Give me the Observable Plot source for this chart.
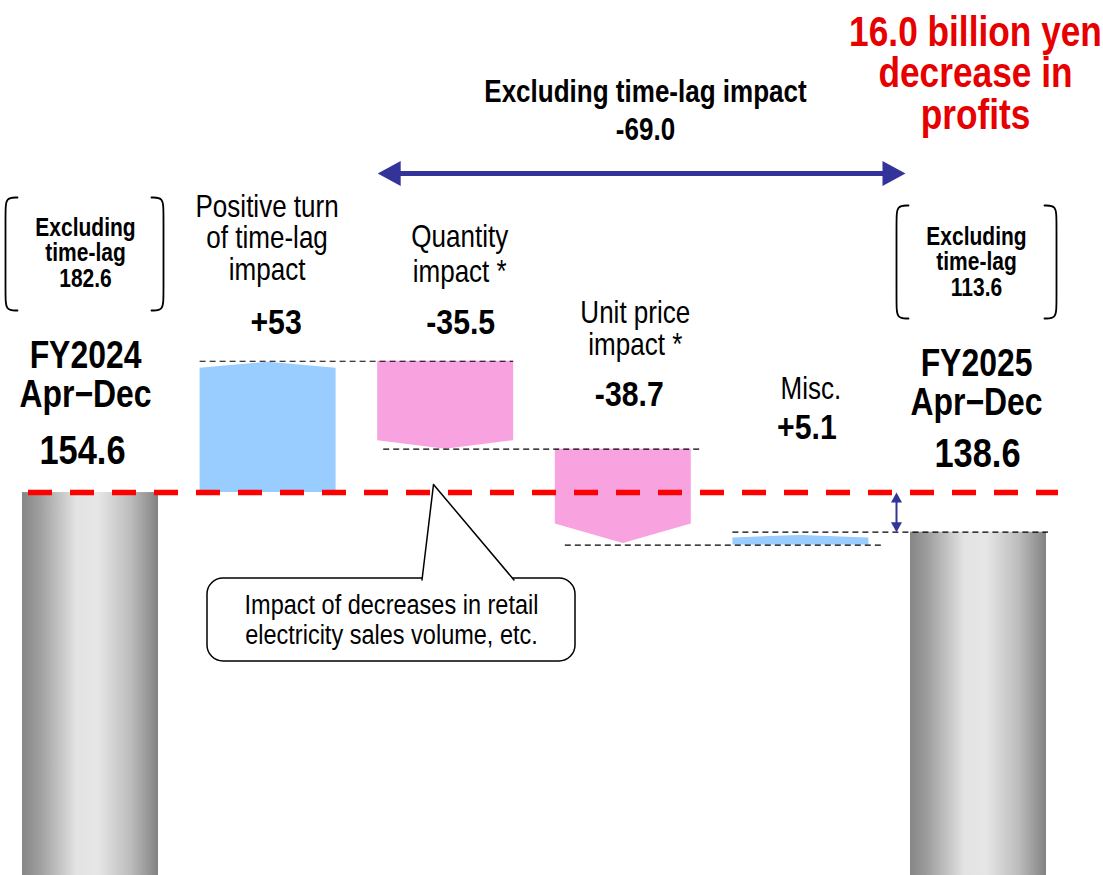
<!DOCTYPE html>
<html>
<head>
<meta charset="utf-8">
<script src="https://cdn.jsdelivr.net/npm/d3@7"></script>
<script src="https://cdn.jsdelivr.net/npm/@observablehq/plot@0.6"></script>
<style>
  html, body { margin: 0; padding: 0; background: #fff; }
</style>
</head>
<body>
<div id="chart"></div>
<script>
// ---------------- data ----------------
const categories = ["FY2024\nApr−Dec", "Positive turn\nof time-lag\nimpact", "Quantity\nimpact *", "Unit price\nimpact *", "Misc.", "FY2025\nApr−Dec"];
const startValue = 154.6;
const endValue = 138.6;
const changeValues = [53, -35.5, -38.7, 5.1];
const changeLabels = ["+53", "-35.5", "-38.7", "+5.1"];
const totalLabels = ["154.6", "138.6"];
const excludingLagLabels = ["Excluding\ntime-lag\n182.6", "Excluding\ntime-lag\n113.6"];
const excludingLagTitle = "Excluding time-lag impact\n-69.0";
const headline = "16.0 billion yen\ndecrease in\nprofits";
const calloutText = "Impact of decreases in retail\nelectricity sales volume, etc.";

// ---------------- layout (pixels) ----------------
const W = 1103, H = 875;
const X0 = 90, STEP = 177.6;   // px of the first category centre, px per category
const K = 2.477;               // px per unit of value
const ix = px => (px - X0) / STEP;   // page px -> x index
const vy = px => (H - px) / K;       // page px -> value
const dI = px => px / STEP;
const dV = px => px / K;
const HALF = dI(68);
const FONT = "'Liberation Sans', Arial, sans-serif";
// condensed look of the original lettering (horizontal squeeze per text group)
const squeeze = {"fy-names": 0.745, "fy-values": 0.85, "callout-text": 0.86, "headline": 0.82, "lag-notes": 0.87};
const defaultSqueeze = 0.84;

// ---------------- derived waterfall ----------------
let run = startValue;
const steps = changeValues.map((c, k) => {
  const from = run; run = run + c;
  return {k, i: k + 1, c, from, to: run, label: changeLabels[k], name: categories[k + 1]};
});
const totals = [
  {i: 0, value: startValue, label: totalLabels[0], name: categories[0], excl: excludingLagLabels[0]},
  {i: 5, value: endValue, label: totalLabels[1], name: categories[5], excl: excludingLagLabels[1]}
];

// arrow-like tip of each change bar (px)
const tipEdgePx = [7, 8.5, 21, 5.5];
const tipMidPx = [1, 0, 1.5, 3];
const barPts = steps.flatMap(s => {
  const up = s.c > 0;
  return [[-1, tipEdgePx[s.k]], [0, tipMidPx[s.k]], [1, tipEdgePx[s.k]]].map(([f, t]) => up
    ? {k: s.k, up, x: s.i + f * HALF, y1: s.from, y2: s.to - dV(t)}
    : {k: s.k, up, x: s.i + f * HALF, y1: s.to + dV(t), y2: s.from});
});

// dashed connectors
const connectorPx = [[-68, 68], [-62, 77], [-58, 82], [-68, 70]];
const connectorLevels = [steps[0].to, steps[1].to, steps[2].to, endValue];
const connectors = connectorLevels.map((y, k) => ({
  y, x1: k + 1 + dI(connectorPx[k][0]), x2: k + 2 + dI(connectorPx[k][1])
}));

// red reference line at the starting level
const refLine = [{y: startValue, x1: 0 - dI(62), x2: 5 + dI(80)}];

// header double arrow (spans the ex-lag comparison)
const arrowY = vy(173);
const aL = 2 - HALF, aR = 5 - HALF - dI(5);
const bigShaft = [{x1: aL + dI(18), x2: aR - dI(18), y: arrowY}];
const heads = [
  {g: "L", x: aL, y: arrowY}, {g: "L", x: aL + dI(23), y: arrowY + dV(12.5)}, {g: "L", x: aL + dI(23), y: arrowY - dV(12.5)},
  {g: "R", x: aR, y: arrowY}, {g: "R", x: aR - dI(23), y: arrowY + dV(12.5)}, {g: "R", x: aR - dI(23), y: arrowY - dV(12.5)}
];
// small arrow showing the 16.0 decrease
const sx = 5 - dI(82);
const smallShaft = [{x: sx, y1: startValue - dV(6), y2: endValue + dV(6)}];
const smallHeads = [
  {g: "T", x: sx, y: startValue}, {g: "T", x: sx - dI(5.5), y: startValue - dV(10)}, {g: "T", x: sx + dI(5.5), y: startValue - dV(10)},
  {g: "B", x: sx, y: endValue}, {g: "B", x: sx - dI(5.5), y: endValue + dV(10)}, {g: "B", x: sx + dI(5.5), y: endValue + dV(10)}
];

// brackets around the "Excluding time-lag" notes
function bracket(id, xEdge, dir, topPx, botPx) {
  const rx = dI(12) * dir, t = vy(topPx), b = vy(botPx), ry = dV(15);
  return [[xEdge + rx, t], [xEdge, t], [xEdge, t - ry], [xEdge, b + ry], [xEdge, b], [xEdge + rx, b]]
    .map(([x, y]) => ({id, x, y}));
}
const brackets = [
  ...bracket("l0", 0 - dI(85), 1, 197, 310), ...bracket("r0", 0 + dI(73), -1, 197, 310),
  ...bracket("l5", 5 - dI(82), 1, 205, 318), ...bracket("r5", 5 + dI(78), -1, 205, 318)
];

// callout
const calloutBox = [{x1: ix(207), x2: ix(575), y1: vy(661), y2: vy(578)}];
const calloutPointer = [{x: ix(421.5), y: vy(579.5)}, {x: ix(433), y: vy(484)}, {x: ix(513.5), y: vy(579.5)}];

// ---------------- text layout ----------------
const catLabelLayout = [[-1, 279, 31.5], [14, 281, 35], [12, 354, 32], [10, 398, 32]];   // dx px, last baseline px, line height px
const valLabelLayout = [[8, 333], [15, 333], [6, 405], [6, 438]];
const totalLayout = [[-5, 406, 463, 286, -8], [-2, 414, 466, 295, -1]];      // dx, name, value, excl baselines, value dx

const txt = (data, o) => Plot.text(data, {lineAnchor: "bottom", textAnchor: "middle", fill: "#000", ...o});

const svg = Plot.plot({
  width: W, height: H,
  marginTop: 0, marginBottom: 0, marginLeft: 0, marginRight: 0,
  x: {type: "linear", domain: [ix(0), ix(W)], axis: null},
  y: {type: "linear", domain: [0, vy(0)], axis: null},
  style: {fontFamily: FONT, background: "#fff", overflow: "visible"},
  marks: [
    // totals (grey cylinders)
    Plot.rect(totals, {x1: d => d.i - HALF, x2: d => d.i + HALF, y1: d => 0, y2: "value", fill: "url(#greyCylinder)"}),
    // change bars
    Plot.areaY(barPts.filter(d => d.up), {x: "x", y1: "y1", y2: "y2", z: "k", fill: "#99ccff", curve: "linear"}),
    Plot.areaY(barPts.filter(d => !d.up), {x: "x", y1: "y1", y2: "y2", z: "k", fill: "#f9a2e0", curve: "linear"}),
    // connectors
    Plot.ruleY(connectors, {y: "y", x1: "x1", x2: "x2", stroke: "#000", strokeWidth: 1.2, strokeDasharray: "6,4"}),
    // reference line
    Plot.ruleY(refLine, {y: "y", x1: "x1", x2: "x2", stroke: "#ff0000", strokeWidth: 5.5, strokeDasharray: "24,18"}),
    // header arrow
    Plot.ruleY(bigShaft, {y: "y", x1: "x1", x2: "x2", stroke: "#333399", strokeWidth: 5}),
    Plot.line(heads, {x: "x", y: "y", z: "g", fill: "#333399", stroke: null, curve: "linear"}),
    // small arrow
    Plot.ruleX(smallShaft, {x: "x", y1: "y1", y2: "y2", stroke: "#333399", strokeWidth: 2}),
    Plot.line(smallHeads, {x: "x", y: "y", z: "g", fill: "#333399", stroke: null, curve: "linear"}),
    // brackets
    Plot.line(brackets, {x: "x", y: "y", z: "id", stroke: "#000", strokeWidth: 1.8, curve: "basis"}),
    // callout
    Plot.rect(calloutBox, {x1: "x1", x2: "x2", y1: "y1", y2: "y2", rx: 16, fill: "#fff", stroke: "#000", strokeWidth: 1.5}),
    Plot.line(calloutPointer, {x: "x", y: "y", fill: "#fff", stroke: "#000", strokeWidth: 1.5, curve: "linear"}),
    txt([calloutText], {ariaLabel: "callout-text", x: () => ix(391), y: () => vy(643), text: d => d, fontSize: 28, lineHeight: 30 / 28}),
    // texts
    txt([headline], {ariaLabel: "headline", x: () => 5 - dI(3), y: () => vy(128), text: d => d, fontSize: 42, fontWeight: "bold", fill: "#e60000", lineHeight: 41.5 / 42}),
    txt([excludingLagTitle], {ariaLabel: "lag-title", x: () => ix(645), y: () => vy(139), text: d => d, fontSize: 31, fontWeight: "bold", lineHeight: 38 / 31}),
    txt(totals, {ariaLabel: "lag-notes", x: (d, j) => d.i + dI(totalLayout[j][0]), y: (d, j) => vy(totalLayout[j][3]), text: "excl", fontSize: 25, fontWeight: "bold", lineHeight: 25.5 / 25}),
    txt(totals, {ariaLabel: "fy-names", x: (d, j) => d.i + dI(totalLayout[j][0]), y: (d, j) => vy(totalLayout[j][1]), text: "name", fontSize: 38, fontWeight: "bold", lineHeight: 39 / 38}),
    txt(totals, {ariaLabel: "fy-values", x: (d, j) => d.i + dI(totalLayout[j][4]), y: (d, j) => vy(totalLayout[j][2]), text: "label", fontSize: 41, fontWeight: "bold"}),
    ...steps.map(s => txt([s], {ariaLabel: "step-names", x: d => d.i + dI(catLabelLayout[d.k][0]), y: d => vy(catLabelLayout[d.k][1]), text: "name", fontSize: 31, lineHeight: catLabelLayout[s.k][2] / 31})),
    txt(steps, {ariaLabel: "step-values", x: d => d.i + dI(valLabelLayout[d.k][0]), y: d => vy(valLabelLayout[d.k][1]), text: "label", fontSize: 36, fontWeight: "bold"})
  ]
});

// horizontal shading of the grey cylinders
const defs = d3.select(svg).insert("defs", ":first-child");
const grad = defs.append("linearGradient").attr("id", "greyCylinder").attr("x1", 0).attr("x2", 1).attr("y1", 0).attr("y2", 0);
[[0, "#868686"], [0.12, "#9c9c9c"], [0.4, "#e3e3e3"], [0.56, "#e6e6e6"], [0.8, "#bcbcbc"], [1, "#828282"]]
  .forEach(([o, c]) => grad.append("stop").attr("offset", o).attr("stop-color", c));

document.getElementById("chart").append(svg);

// condense the lettering like the original narrow typeface (scale about each text's anchor)
d3.select(svg).selectAll("g[aria-label] text").each(function () {
  const f = squeeze[this.parentNode.getAttribute("aria-label")] ?? defaultSqueeze;
  const tr = this.getAttribute("transform") || "";
  this.setAttribute("transform", `${tr} scale(${f},1)`);
});
</script>
</body>
</html>
